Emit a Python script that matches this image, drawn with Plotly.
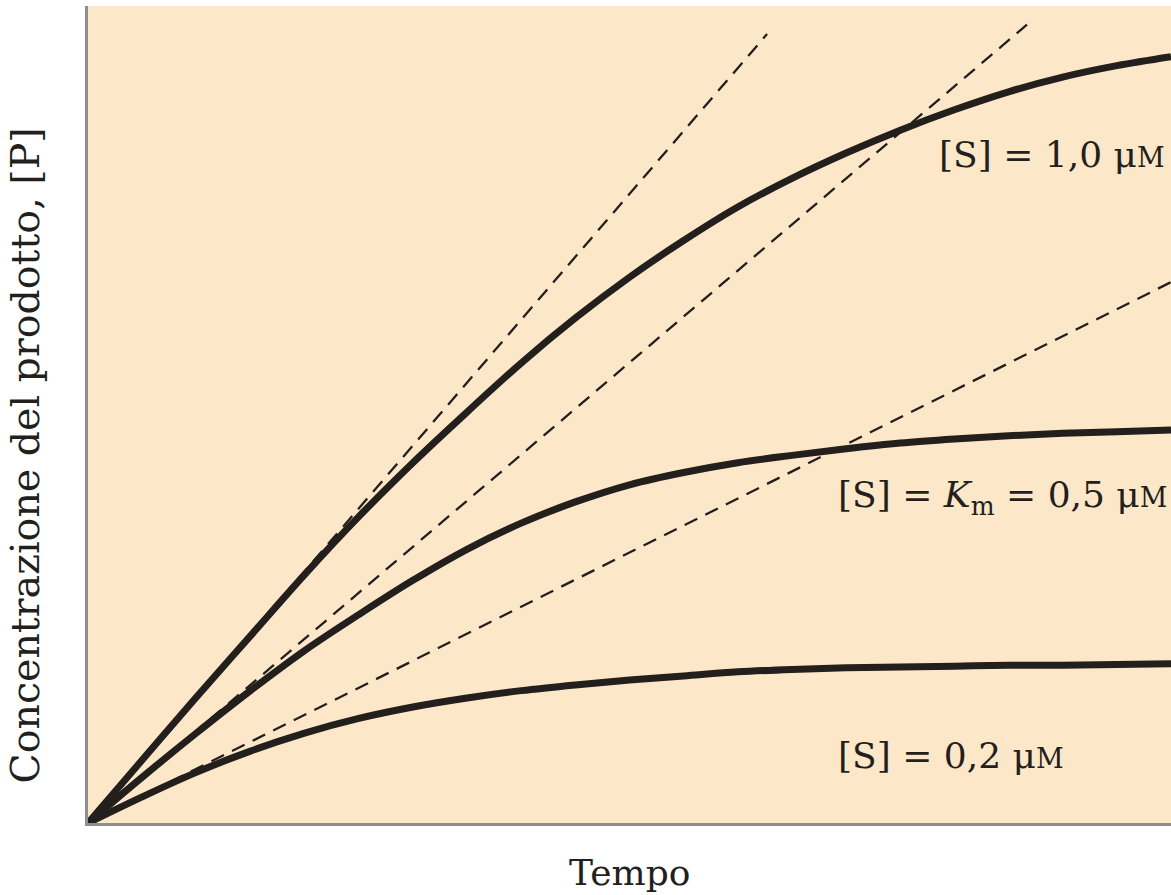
import plotly.graph_objects as go

# Time samples (arbitrary units) shared by the three progress curves
tempo = [0, 0.5, 1, 1.5, 2, 2.5, 3, 3.5, 4, 4.5, 5,
         5.5, 6, 6.5, 7, 7.5, 8, 8.5, 9, 9.5, 10]

# Product concentration [P] for each substrate concentration
p_s_1_0 = [0, 0.77, 1.54, 2.29, 3.04, 3.75, 4.41, 5.03, 5.63, 6.18, 6.68,
           7.13, 7.54, 7.89, 8.20, 8.48, 8.73, 8.95, 9.13, 9.27, 9.38]
p_s_0_5 = [0, 0.56, 1.10, 1.62, 2.11, 2.55, 2.97, 3.35, 3.67, 3.93, 4.14,
           4.29, 4.41, 4.50, 4.58, 4.65, 4.70, 4.74, 4.77, 4.79, 4.81]
p_s_0_2 = [0, 0.32, 0.62, 0.88, 1.10, 1.28, 1.42, 1.53, 1.62, 1.69, 1.75,
           1.80, 1.85, 1.88, 1.90, 1.91, 1.92, 1.93, 1.93, 1.94, 1.95]

# Initial velocities (slopes of the tangents at t = 0) and where each tangent stops
v0 = [1.54, 1.127, 0.662]
t_fine = [6.27, 8.67, 10.0]

labels = ["[S] = 1,0 μ<span style='font-size:27px'>M</span>",
          "[S] = <i>K</i><sub>m</sub> = 0,5 μ<span style='font-size:27px'>M</span>",
          "[S] = 0,2 μ<span style='font-size:27px'>M</span>"]
label_x = [7.84, 6.91, 6.91]
label_y = [8.18, 3.98, 0.83]

INK = "#231F1C"
SERIF = "DejaVu Serif"

fig = go.Figure()

# Dashed tangents (initial rates)
for v, tf in zip(v0, t_fine):
    fig.add_trace(go.Scatter(
        x=[0, tf], y=[0, v * tf], mode="lines",
        line=dict(color=INK, width=2.3, dash="14px,9px"),
        hoverinfo="skip", showlegend=False))

# Progress curves
for ys in (p_s_1_0, p_s_0_5, p_s_0_2):
    fig.add_trace(go.Scatter(
        x=tempo, y=ys, mode="lines",
        line=dict(color=INK, width=7, shape="spline", smoothing=1.0),
        hoverinfo="skip", showlegend=False))

annotations = []
for txt, lx, ly in zip(labels, label_x, label_y):
    annotations.append(dict(
        x=lx, y=ly, xref="x", yref="y", text=txt, showarrow=False,
        xanchor="left", yanchor="middle",
        font=dict(family=SERIF, size=36, color=INK)))

annotations.append(dict(
    x=0.5, y=-0.061, xref="paper", yref="paper", text="Tempo",
    showarrow=False, xanchor="center", yanchor="middle",
    font=dict(family=SERIF, size=36, color=INK)))
annotations.append(dict(
    x=-0.058, y=0.45, xref="paper", yref="paper",
    text="Concentrazione del prodotto, [P]", textangle=-90,
    showarrow=False, xanchor="center", yanchor="middle",
    font=dict(family=SERIF, size=39.5, color=INK)))

fig.update_layout(
    width=1171, height=895,
    margin=dict(l=88, r=0, t=6, b=72),
    paper_bgcolor="white",
    plot_bgcolor="#FDE7C9",
    annotations=annotations,
    xaxis=dict(range=[0, 10], showgrid=False, zeroline=False,
               showticklabels=False, ticks="", showline=True,
               linecolor="#8F8F8F", linewidth=2.5),
    yaxis=dict(range=[0, 10], showgrid=False, zeroline=False,
               showticklabels=False, ticks="", showline=True,
               linecolor="#8F8F8F", linewidth=2.5),
)

fig.write_html("out.html")
